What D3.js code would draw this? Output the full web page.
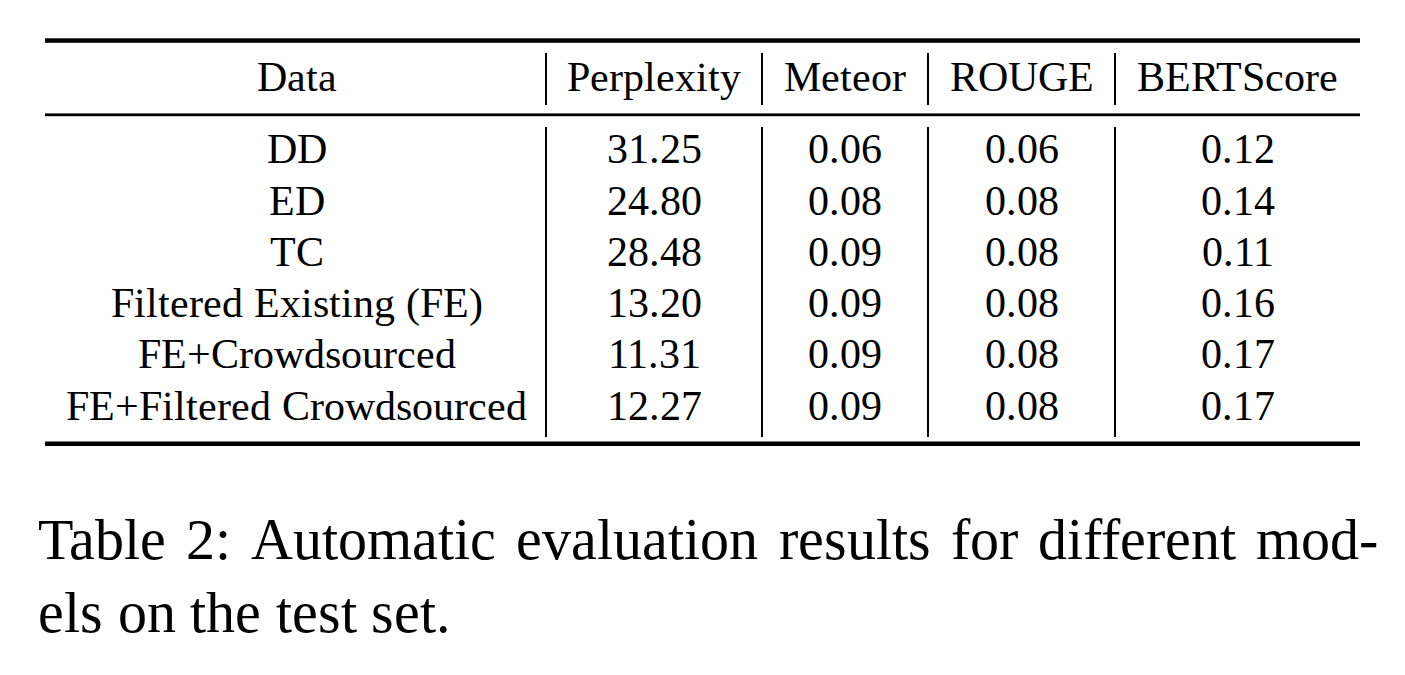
<!DOCTYPE html>
<html>
<head>
<meta charset="utf-8">
<script src="https://cdn.jsdelivr.net/npm/d3@7"></script>
<style>
  @font-face { font-family: "TableSerif"; src: local("Liberation Serif"), local("LiberationSerif"), local("Liberation Serif Regular"), local("LiberationSerif-Regular"); }
</style>
</head>
<body style="margin:0">
<svg id="chart" width="1405" height="675"></svg>
<script>
// Table data
const headers = ["Data", "Perplexity", "Meteor", "ROUGE", "BERTScore"];
const rowLabels = ["DD", "ED", "TC", "Filtered Existing (FE)", "FE+Crowdsourced", "FE+Filtered Crowdsourced"];
const perplexity = ["31.25", "24.80", "28.48", "13.20", "11.31", "12.27"];
const meteor = ["0.06", "0.08", "0.09", "0.09", "0.09", "0.09"];
const rouge = ["0.06", "0.08", "0.08", "0.08", "0.08", "0.08"];
const bertscore = ["0.12", "0.14", "0.11", "0.16", "0.17", "0.17"];
const captionLines = [
    "Table 2: Automatic evaluation results for different mod-",
    "els on the test set."
];

const FONT = "TableSerif, 'Liberation Serif', serif";
const svg = d3.select("#chart");

// column edges (left rule, separators, right rule)
const edges = [47, 546, 762, 928, 1115, 1360];
const colCenter = i => (edges[i] + edges[i + 1]) / 2;

// rows placed on a point scale between the first and last baselines
const y = d3.scalePoint()
    .domain(rowLabels)
    .range([163.3, 419.5]);

const fontSize = 42;
const columns = [rowLabels, perplexity, meteor, rouge, bertscore];

// horizontal rules
svg.append("rect").attr("x", 45).attr("y", 38.3).attr("width", 1315).attr("height", 4.5);
svg.append("rect").attr("x", 45).attr("y", 113.4).attr("width", 1315).attr("height", 2.8);
svg.append("rect").attr("x", 45).attr("y", 441.5).attr("width", 1315).attr("height", 4.5);

// vertical separators: header part and body part
edges.slice(1, -1).forEach(x => {
    svg.append("line")
        .attr("x1", x).attr("x2", x)
        .attr("y1", 53).attr("y2", 105)
        .attr("stroke", "#000").attr("stroke-width", 2);
    svg.append("line")
        .attr("x1", x).attr("x2", x)
        .attr("y1", 127).attr("y2", 437)
        .attr("stroke", "#000").attr("stroke-width", 2);
});

// header
headers.forEach((h, i) => {
    svg.append("text")
        .attr("x", colCenter(i))
        .attr("y", 90.5)
        .style("font-family", FONT)
        .style("font-size", fontSize + "px")
        .style("text-anchor", "middle")
        .text(h);
});

// body cells
columns.forEach((col, ci) => {
    col.forEach((d, i) => {
        svg.append("text")
            .attr("x", colCenter(ci))
            .attr("y", y(rowLabels[i]))
            .style("font-family", FONT)
            .style("font-size", fontSize + "px")
            .style("text-anchor", "middle")
            .text(d);
    });
});

// caption, first line justified between left and right margin
const capLeft = 38, capRight = 1378, capSize = 58;
const capBase = [559, 631.5];

function drawCaption() {
    svg.selectAll("text.cap").remove();
    captionLines.forEach((line, li) => {
        const words = line.split(" ");
        const nodes = words.map(w => svg.append("text")
            .attr("class", "cap")
            .attr("y", capBase[li])
            .style("font-family", FONT)
            .style("font-size", capSize + "px")
            .text(w));
        const widths = nodes.map(n => n.node().getComputedTextLength());
        const total = d3.sum(widths);
        let gap = capSize * 0.25;
        if (li === 0) gap = (capRight - capLeft - total) / (words.length - 1);
        let x = capLeft;
        nodes.forEach((n, i) => {
            n.attr("x", x);
            x += widths[i] + gap;
        });
    });
}
drawCaption();
// re-measure once the local font face is ready
if (document.fonts && document.fonts.ready) document.fonts.ready.then(drawCaption);
</script>
</body>
</html>
